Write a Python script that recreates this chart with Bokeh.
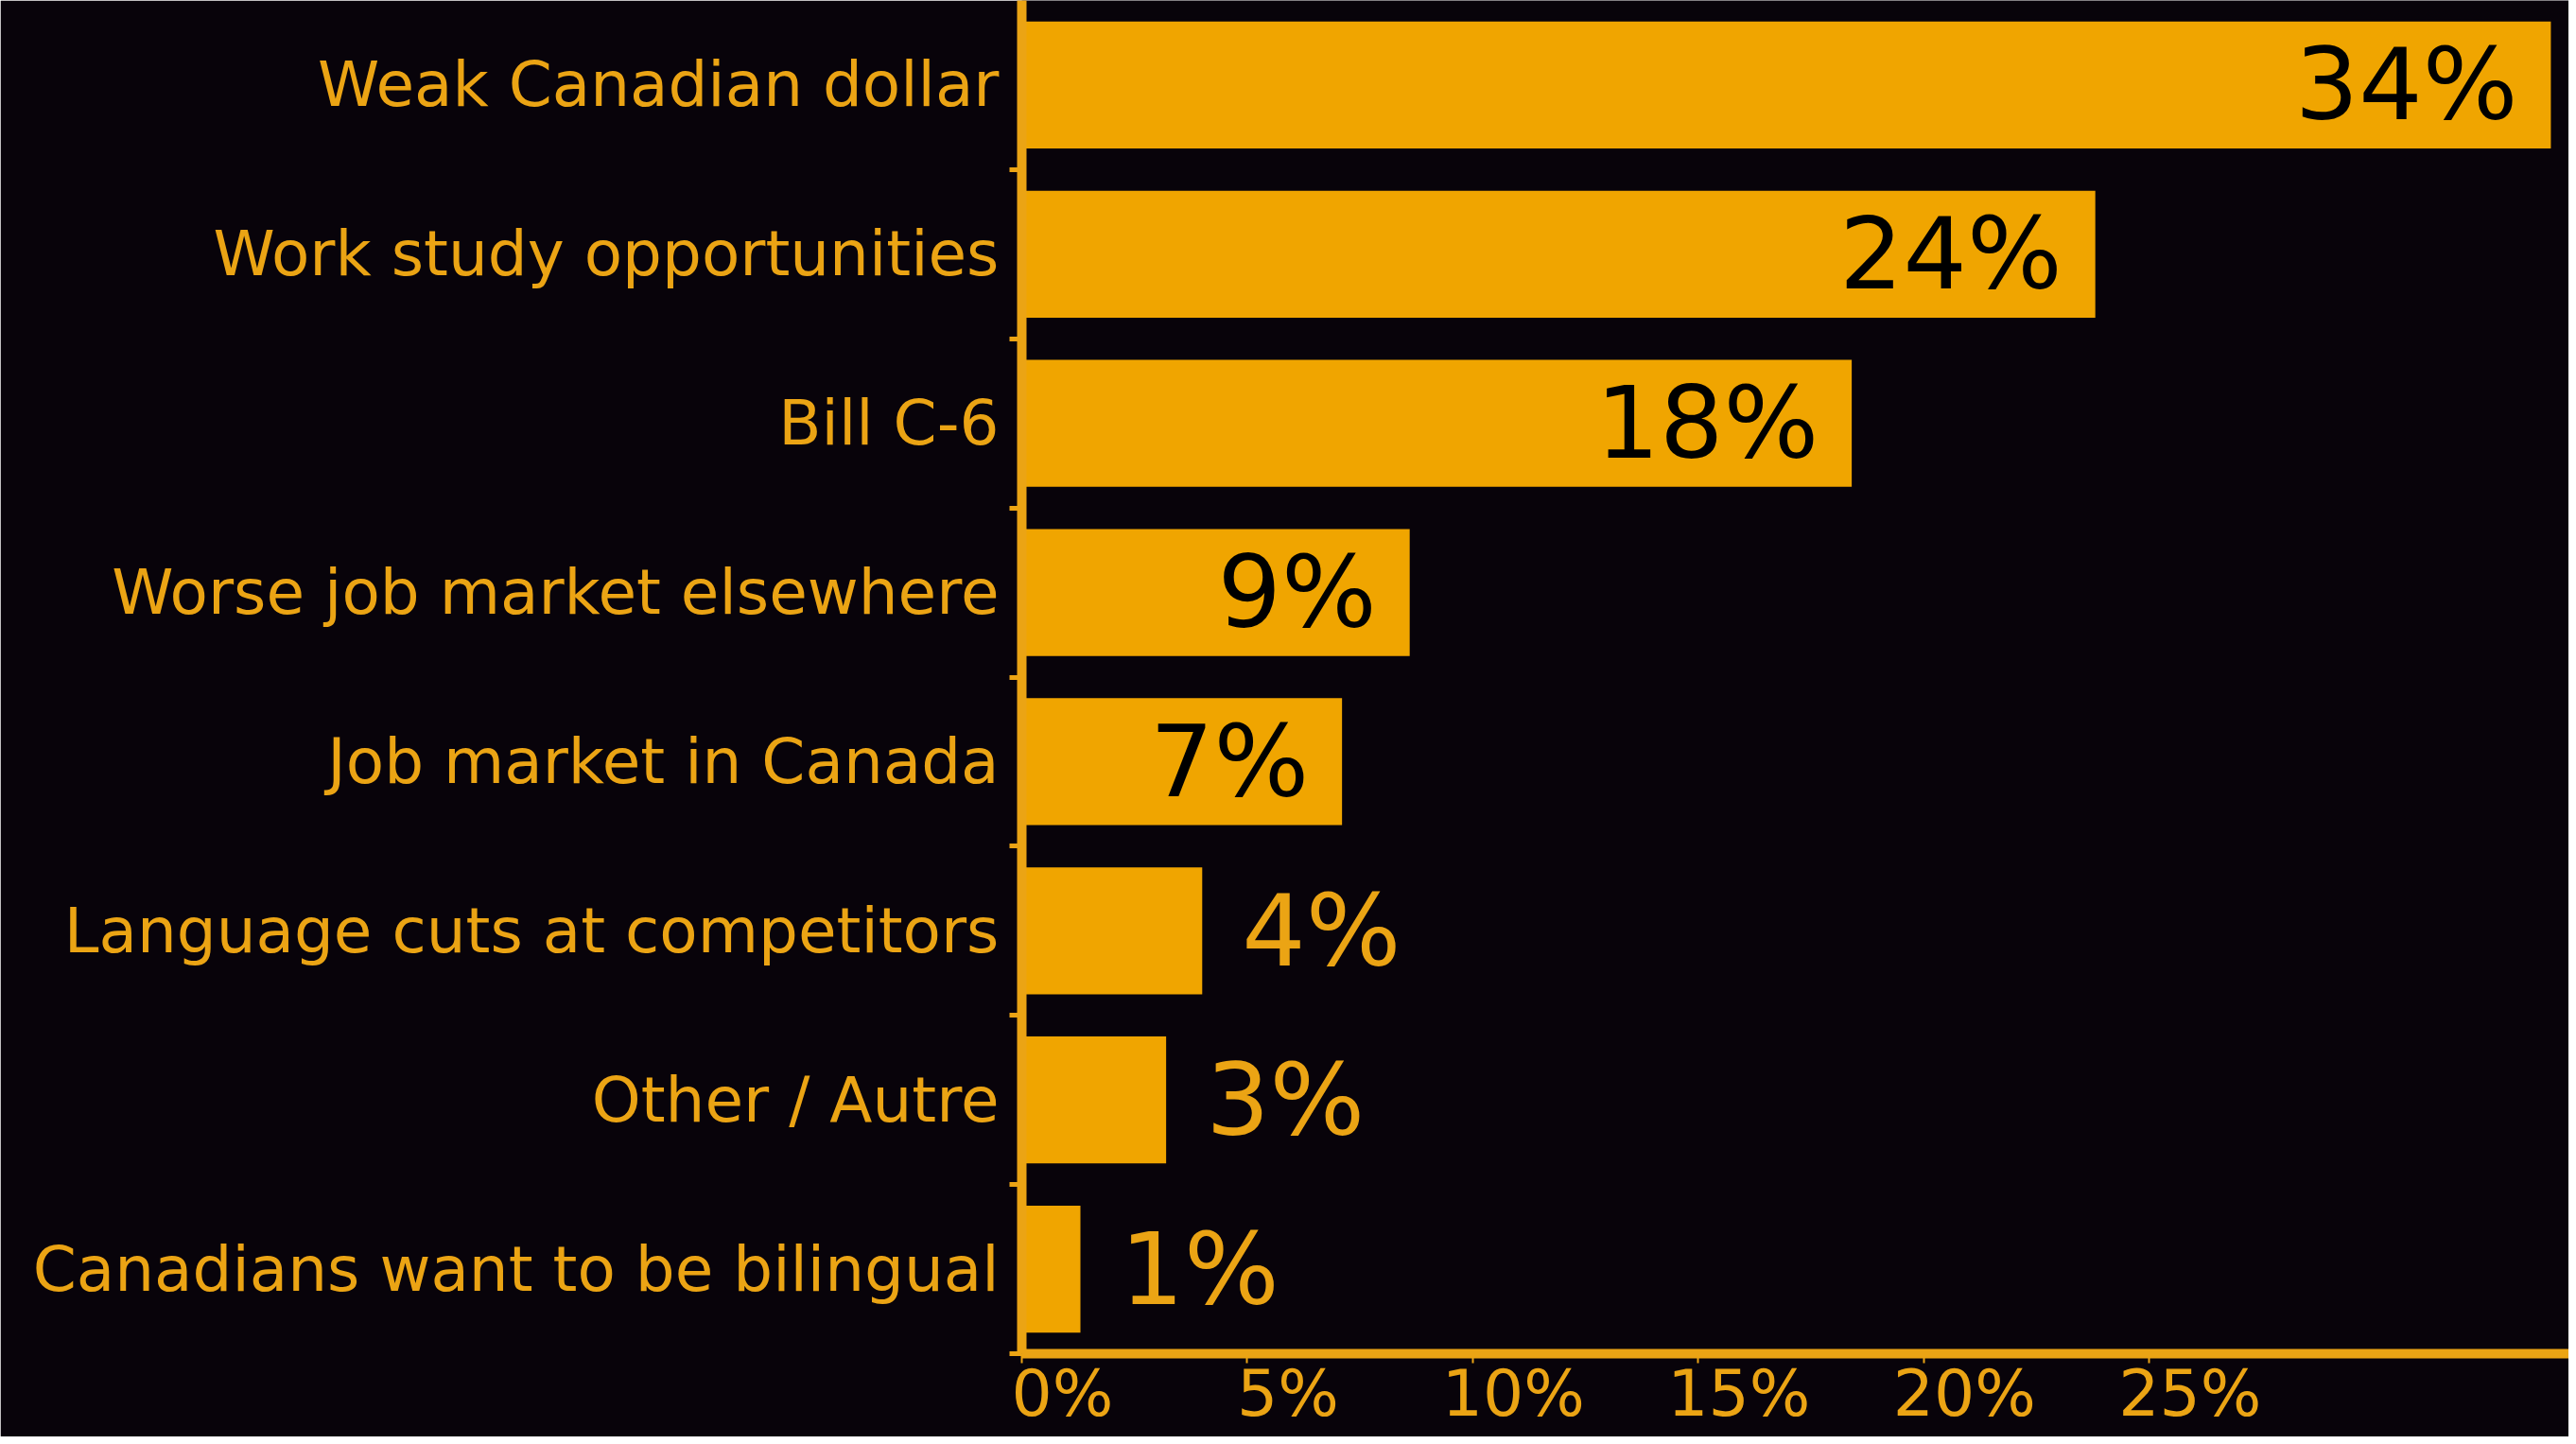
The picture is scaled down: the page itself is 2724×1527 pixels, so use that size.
from bokeh.plotting import figure
from bokeh.models import (Range1d, LinearAxis, FixedTicker, ColumnDataSource)
from bokeh.core.properties import value
from bokeh.embed import file_html
from bokeh.resources import INLINE

# ---- data ----
categories = [
    "Weak Canadian dollar",
    "Work study opportunities",
    "Bill C-6",
    "Worse job market elsewhere",
    "Job market in Canada",
    "Language cuts at competitors",
    "Other / Autre",
    "Canadians want to be bilingual",
]
values = [33.9, 23.8, 18.4, 8.6, 7.1, 4.0, 3.2, 1.3]
value_labels = ["34%", "24%", "18%", "9%", "7%", "4%", "3%", "1%"]
tick_values = [0, 5, 10, 15, 20, 25]
tick_labels = ["0%", "5%", "10%", "15%", "20%", "25%"]

# ---- style ----
BG = "#08030A"
BAR = "#F0A500"
ORANGE = "#EBA414"
X_END = 34.3
LABEL_SHIFT = 0.9

n = len(categories)
ypos = [n - 1 - i for i in range(n)]  # first category at top

p = figure(width=2716, height=1519,
           x_range=Range1d(0, X_END),
           y_range=Range1d(-0.5, n - 0.5),
           x_axis_location=None, y_axis_location=None,
           output_backend="svg", toolbar_location=None,
           min_border_left=1080, min_border_right=0,
           min_border_top=0, min_border_bottom=88)
p.background_fill_color = BG
p.border_fill_color = BG
p.outline_line_color = None
p.grid.visible = False

src = ColumnDataSource(dict(y=ypos, val=values))
p.hbar(y="y", left=0, right="val", height=0.75, source=src,
       fill_color=BAR, line_color=None)

# value labels: inside (black, right aligned) for big bars, outside (orange) for small
inside = [v >= 5 for v in values]
lab_src = ColumnDataSource(dict(
    y=ypos, val=values, txt=value_labels,
    align=["right" if i else "left" for i in inside],
    xoff=[-35 if i else 42 for i in inside],
    col=["#000000" if i else ORANGE for i in inside],
))
p.text(x="val", y="y", text="txt", source=lab_src,
       text_align="align", x_offset="xoff", text_color="col",
       text_baseline="middle", text_font=value("DejaVu Sans"),
       text_font_size=value("106px"))

# ---- y axes: inner line + boundary ticks, outer category labels ----
yline = LinearAxis(ticker=FixedTicker(ticks=[k - 0.5 for k in range(n)]))
yline.axis_line_color = ORANGE
yline.axis_line_width = 10
yline.major_tick_line_color = ORANGE
yline.major_tick_line_width = 5
yline.major_tick_out = 13
yline.major_tick_in = 0
yline.minor_tick_line_color = None
yline.major_label_text_font_size = "1px"
yline.major_label_text_alpha = 0
yline.major_label_standoff = 0
p.add_layout(yline, "left")

ycat = LinearAxis(ticker=FixedTicker(ticks=ypos),
                  major_label_overrides={y: c for y, c in zip(ypos, categories)})
ycat.axis_line_color = None
ycat.major_tick_line_color = None
ycat.minor_tick_line_color = None
ycat.major_label_text_color = ORANGE
ycat.major_label_text_font = "DejaVu Sans"
ycat.major_label_text_font_size = "66px"
ycat.major_label_standoff = 5
p.add_layout(ycat, "left")

# ---- x axes: inner line + ticks, outer labels (left-aligned look) ----
xline = LinearAxis(ticker=FixedTicker(ticks=tick_values))
xline.axis_line_color = ORANGE
xline.axis_line_width = 10
xline.major_tick_line_color = ORANGE
xline.major_tick_line_width = 2
xline.major_tick_out = 10
xline.major_tick_in = 0
xline.minor_tick_line_color = None
xline.major_label_text_font_size = "1px"
xline.major_label_text_alpha = 0
xline.major_label_standoff = 0
p.add_layout(xline, "below")

p.extra_x_ranges = {"lab": Range1d(-LABEL_SHIFT, X_END - LABEL_SHIFT)}
xlab = LinearAxis(x_range_name="lab", ticker=FixedTicker(ticks=tick_values),
                  major_label_overrides={t: l for t, l in zip(tick_values, tick_labels)})
xlab.axis_line_color = None
xlab.major_tick_line_color = None
xlab.minor_tick_line_color = None
xlab.major_label_text_color = ORANGE
xlab.major_label_text_font = "DejaVu Sans"
xlab.major_label_text_font_size = "68px"
xlab.major_label_standoff = -14
p.add_layout(xlab, "below")

open("out.html", "w").write(file_html(p, INLINE))
